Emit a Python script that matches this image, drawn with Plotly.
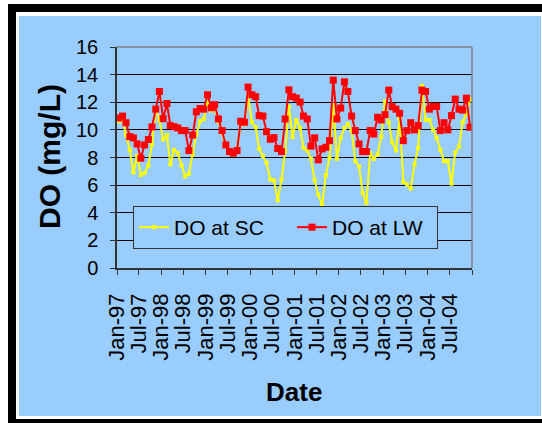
import pandas as pd
import plotly.graph_objects as go

start_month = "1997-01-01"
n_months = 96

do_sc = [10.62, 10.77, 9.63, 8.55, 6.92, 8.12, 6.73, 6.87, 7.42, 8.96, 11.55, 10.72,
         9.30, 9.63, 7.50, 8.55, 8.31, 7.42, 6.63, 6.82, 8.22, 9.68, 10.62, 10.79,
         12.0, 11.4, 11.6, 10.6, 9.8, 8.8, 8.3, 8.2, 8.4, 10.5, 10.4, 12.47,
         10.55, 10.19, 8.62, 8.10, 7.62, 6.41, 6.34, 4.90, 6.41, 8.43, 11.70, 9.47,
         10.72, 10.14, 8.70, 8.50, 7.90, 6.34, 5.33, 4.54, 6.70, 7.98, 11.82, 7.90,
         9.42, 10.14, 10.43, 9.95, 7.74, 7.35, 5.43, 4.71, 8.31, 7.90, 8.22, 9.51,
         12.06, 10.55, 9.10, 8.50, 10.86, 6.22, 6.05, 5.74, 7.50, 8.70, 13.19, 10.72,
         10.72, 10.00, 9.42, 8.55, 7.74, 7.74, 6.10, 8.38, 8.79, 10.55, 11.15, 12.23]

do_lw = [10.86, 11.00, 10.52, 9.51, 9.42, 8.98, 7.95, 8.91, 9.30, 10.21, 11.50, 12.78,
         10.81, 11.91, 10.31, 10.23, 10.14, 9.95, 9.95, 8.50, 9.63, 11.31, 11.55, 11.50,
         12.54, 11.60, 11.82, 10.79, 9.95, 8.91, 8.43, 8.31, 8.50, 10.62, 10.55, 13.10,
         12.54, 12.40, 11.03, 11.00, 9.87, 9.32, 9.44, 8.65, 8.43, 10.79, 12.90, 12.40,
         12.30, 12.01, 11.00, 10.79, 8.82, 9.42, 7.83, 8.62, 8.74, 9.22, 13.60, 10.79,
         11.58, 13.48, 12.78, 11.00, 9.95, 8.98, 8.43, 8.43, 9.95, 9.70, 10.91, 10.72,
         11.10, 12.88, 11.68, 11.50, 11.20, 9.22, 9.95, 10.52, 10.00, 10.31, 12.88, 12.78,
         11.50, 11.70, 11.70, 9.95, 10.52, 10.00, 11.03, 12.23, 11.50, 11.43, 12.30, 10.19]

tick_labels = ["Jan-97", "Jul-97", "Jan-98", "Jul-98", "Jan-99", "Jul-99", "Jan-00", "Jul-00",
               "Jan-01", "Jul-01", "Jan-02", "Jul-02", "Jan-03", "Jul-03", "Jan-04", "Jul-04", ""]

months = pd.date_range(start_month, periods=n_months, freq="MS")
x_dates = months + pd.Timedelta(days=15)
tick_dates = pd.date_range(start_month, periods=len(tick_labels), freq="6MS")

W, H = 542, 423
L, R, T, B = 117, 472, 47, 268
def px(x):
    return (x - L) / (R - L)
def py(y):
    return (B - y) / (B - T)

BLUE = "#99CCFF"
FONT = "Liberation Sans, Arial, sans-serif"

fig = go.Figure()
fig.add_trace(go.Scatter(x=x_dates, y=do_sc, name="DO at SC", mode="lines+markers",
                         line=dict(color="#FFFF00", width=2), legendwidth=113,
                         marker=dict(symbol="square", size=4, color="#FFFF00")))
fig.add_trace(go.Scatter(x=x_dates, y=do_lw, name="DO at LW", mode="lines+markers",
                         line=dict(color="#FF0000", width=2), legendwidth=100,
                         marker=dict(symbol="square", size=7, color="#FF0000")))

shapes = [
    dict(type="rect", xref="paper", yref="paper", x0=px(8), x1=px(560), y0=py(4), y1=py(440),
         fillcolor="black", line=dict(width=0), layer="below"),
    dict(type="rect", xref="paper", yref="paper", x0=px(16), x1=px(560), y0=py(12), y1=py(419),
         fillcolor="white", line=dict(width=0), layer="below"),
    dict(type="rect", xref="paper", yref="paper", x0=px(19), x1=px(541), y0=py(16), y1=py(416),
         fillcolor=BLUE, line=dict(width=0), layer="below"),
    dict(type="line", xref="paper", yref="paper", x0=0, x1=1, y0=1, y1=1,
         line=dict(color="#808080", width=1.5)),
    dict(type="line", xref="paper", yref="paper", x0=1, x1=1, y0=0, y1=1,
         line=dict(color="#808080", width=1.5)),
]

fig.update_layout(
    width=W, height=H,
    margin=dict(l=L, r=W - R, t=T, b=H - B),
    paper_bgcolor="white",
    plot_bgcolor="rgba(0,0,0,0)",
    font=dict(family=FONT, color="black"),
    shapes=shapes,
    showlegend=True,
    legend=dict(orientation="h", x=px(133), y=py(206), xanchor="left", yanchor="top",
                bgcolor=BLUE, bordercolor="#333333", borderwidth=1,
                font=dict(size=21, family=FONT), itemwidth=30),
    annotations=[
        dict(text="<b>Date</b>", xref="paper", yref="paper", x=px(294), y=py(392),
             xanchor="center", yanchor="middle", showarrow=False,
             font=dict(size=26, family=FONT)),
        dict(text="<b>DO (mg/L)</b>", xref="paper", yref="paper", x=px(49), y=py(157),
             xanchor="center", yanchor="middle", showarrow=False, textangle=-90,
             font=dict(size=30, family=FONT)),
    ],
)

fig.update_xaxes(
    range=[tick_dates[0], tick_dates[-1]],
    tickmode="array", tickvals=tick_dates, ticktext=tick_labels,
    tickangle=-90, tickfont=dict(size=22, family=FONT),
    ticks="outside", ticklen=5, tickcolor="#333333",
    showline=True, linecolor="#333333", linewidth=1.5,
    showgrid=False, zeroline=False, ticklabelstandoff=10,
)
fig.update_yaxes(
    range=[0, 16], dtick=2, tick0=0,
    tickfont=dict(size=20, family=FONT),
    ticks="outside", ticklen=5, tickcolor="#333333",
    showline=True, linecolor="#333333", linewidth=1.5,
    showgrid=True, gridcolor="black", gridwidth=1, zeroline=False,
    ticklabelstandoff=8,
)

fig.write_html("out.html", config={"displayModeBar": False},
               post_script="document.body.style.margin='0';document.body.style.overflow='hidden';")
